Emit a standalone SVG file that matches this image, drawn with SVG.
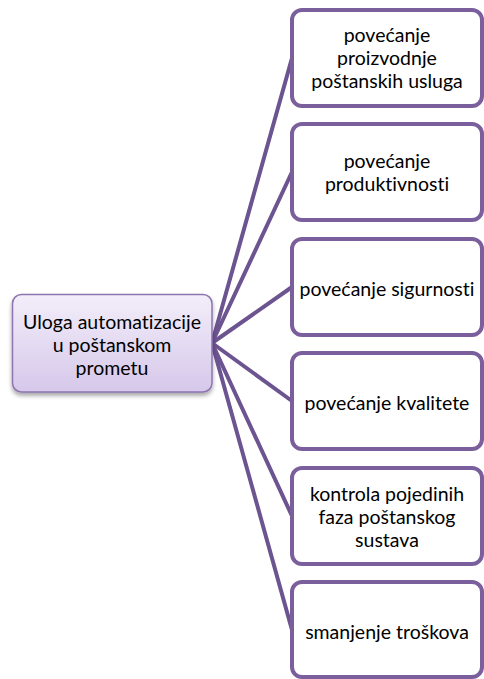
<svg xmlns="http://www.w3.org/2000/svg" width="484" height="679" viewBox="0 0 484 679">
<defs>
<linearGradient id="g" x1="0" y1="0" x2="0" y2="1">
<stop offset="0" stop-color="#f3eefa"/>
<stop offset="1" stop-color="#d6c8ea"/>
</linearGradient>
<filter id="sh" x="-10%" y="-10%" width="120%" height="130%">
<feGaussianBlur in="SourceAlpha" stdDeviation="2"/>
<feOffset dx="0" dy="3"/>
<feComponentTransfer><feFuncA type="linear" slope="0.35"/></feComponentTransfer>
<feMerge><feMergeNode/><feMergeNode in="SourceGraphic"/></feMerge>
</filter>
</defs>
<style>
.c{stroke:#6c5490;stroke-width:4;fill:none;stroke-linecap:round}
.b{fill:#ffffff;stroke:#7a5f9c;stroke-width:4}
.t{font-family:Lato,"Liberation Sans",sans-serif;font-size:19.5px;fill:#000;text-anchor:middle;font-variant-ligatures:none;font-feature-settings:"liga" 0}
</style>
<rect width="484" height="679" fill="#ffffff"/>
<g id="connectors">
<line class="c" x1="212" y1="343" x2="292" y2="58"/>
<line class="c" x1="212" y1="343" x2="292" y2="172"/>
<line class="c" x1="212" y1="343" x2="292" y2="287"/>
<line class="c" x1="212" y1="343" x2="292" y2="401"/>
<line class="c" x1="212" y1="343" x2="292" y2="516"/>
<line class="c" x1="212" y1="343" x2="292" y2="630"/>
</g>
<g id="root">
<rect x="12.5" y="294.5" width="199.5" height="97.5" rx="9" fill="url(#g)" stroke="#8d74b0" stroke-width="1.5" filter="url(#sh)"/>
<text class="t" x="112" y="329">Uloga automatizacije</text>
<text class="t" x="112" y="352">u poštanskom</text>
<text class="t" x="112" y="375">prometu</text>
</g>
<g id="n1">
<rect class="b" x="292" y="10" width="190" height="96" rx="10"/>
<text class="t" x="387" y="42">povećanje</text>
<text class="t" x="387" y="65">proizvodnje</text>
<text class="t" x="387" y="88">poštanskih usluga</text>
</g>
<g id="n2">
<rect class="b" x="292" y="124" width="190" height="96" rx="10"/>
<text class="t" x="387" y="168">povećanje</text>
<text class="t" x="387" y="191">produktivnosti</text>
</g>
<g id="n3">
<rect class="b" x="292" y="239" width="190" height="96" rx="10"/>
<text class="t" x="387" y="296">povećanje sigurnosti</text>
</g>
<g id="n4">
<rect class="b" x="292" y="353" width="190" height="96" rx="10"/>
<text class="t" x="387" y="410">povećanje kvalitete</text>
</g>
<g id="n5">
<rect class="b" x="292" y="468" width="190" height="96" rx="10"/>
<text class="t" x="387" y="501">kontrola pojedinih</text>
<text class="t" x="387" y="524">faza poštanskog</text>
<text class="t" x="387" y="547">sustava</text>
</g>
<g id="n6">
<rect class="b" x="292" y="582" width="190" height="95" rx="10"/>
<text class="t" x="387" y="639">smanjenje troškova</text>
</g>
</svg>
